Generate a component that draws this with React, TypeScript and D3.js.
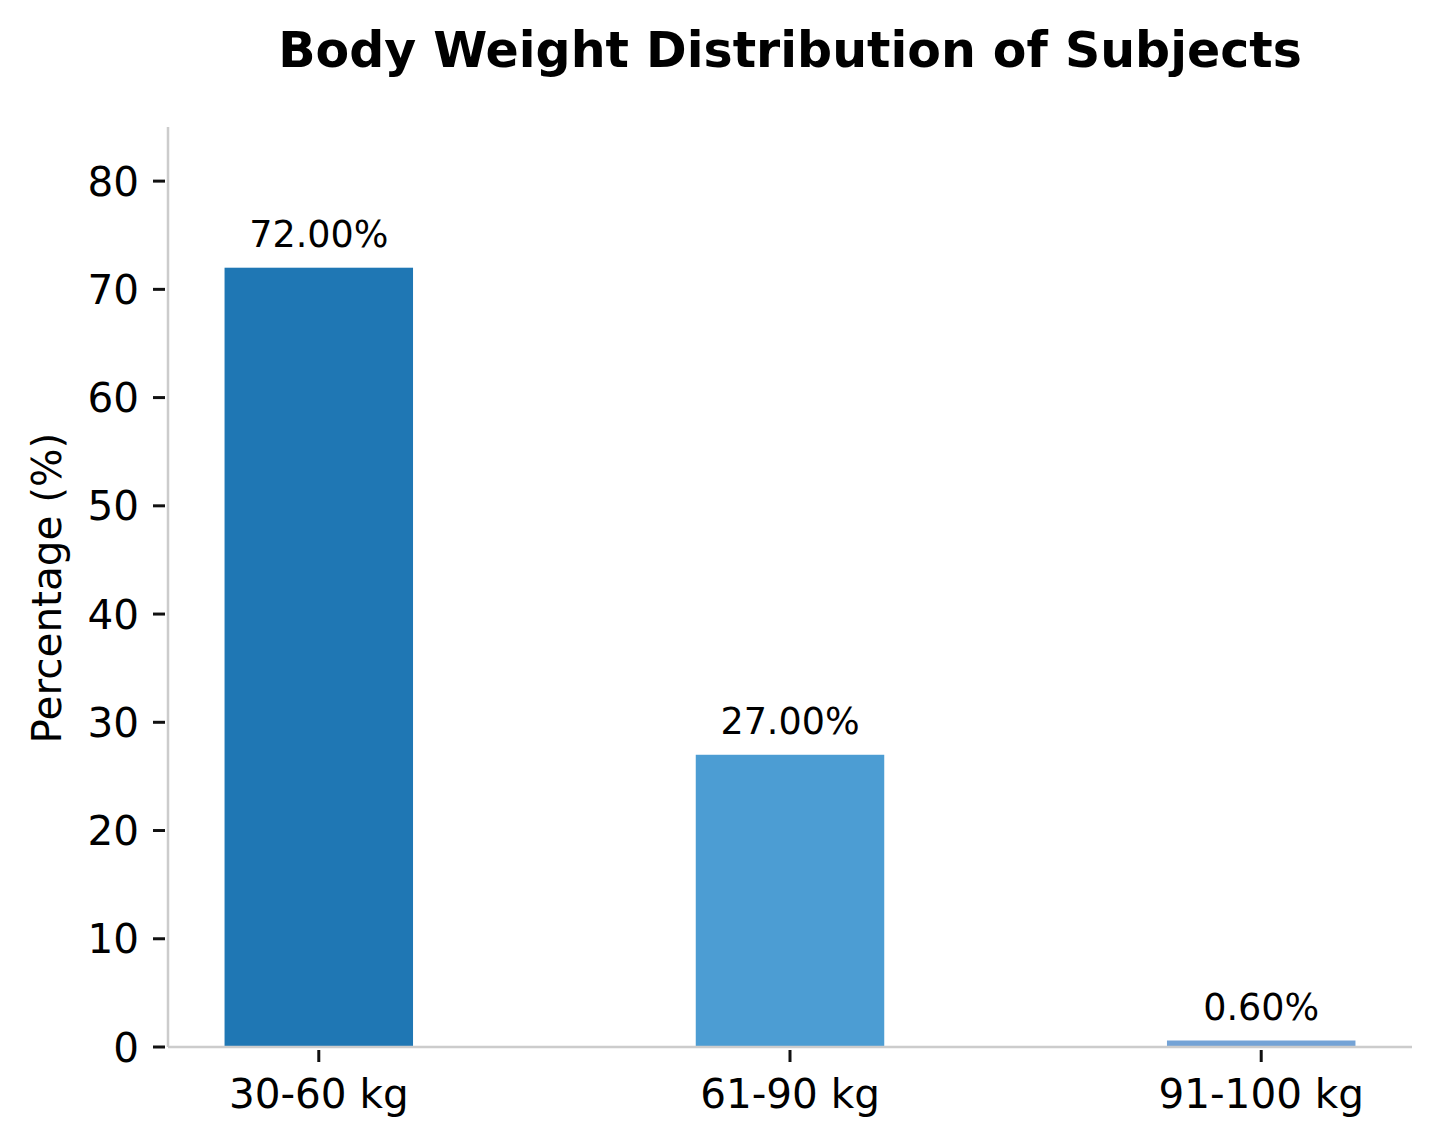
import { useEffect } from "react";
import * as d3 from "d3";

// chart data
const categories = ["30-60 kg", "61-90 kg", "91-100 kg"];
const percentages = [72.0, 27.0, 0.6];
const barColors = ["#1f77b4", "#4c9dd3", "#74a3d6"];
const yTicks = [0, 10, 20, 30, 40, 50, 60, 70, 80];

const W = 1440;
const H = 1146;
const margin = { top: 127, right: 28, bottom: 99, left: 168 };
const FONT = "'DejaVu Sans', sans-serif";

export default function App() {
    useEffect(() => {
        document.body.style.margin = "0";
    }, []);

    const plotBottom = H - margin.bottom;
    const plotRight = W - margin.right;

    // categorical positions as in matplotlib: index with 0.4 wide bars and 5% margins
    const x = d3.scaleLinear().domain([-0.32, 2.32]).range([margin.left, plotRight]);
    const y = d3.scaleLinear().domain([0, 85]).range([plotBottom, margin.top]);
    const barW = x(0.4) - x(0);

    return (
        <svg width={W} height={H} style={{ display: "block", background: "#fff" }} fontFamily={FONT}>
            {/* title */}
            <text x={(margin.left + plotRight) / 2} y={67} textAnchor="middle" fontSize={49} fontWeight="bold" fill="#000">
                Body Weight Distribution of Subjects
            </text>

            {/* bars */}
            {percentages.map((v, i) => (
                <rect key={categories[i]} x={x(i) - barW / 2} y={y(v)} width={barW} height={plotBottom - y(v)} fill={barColors[i]} />
            ))}

            {/* value labels */}
            {percentages.map((v, i) => (
                <text key={"lbl" + i} x={x(i)} y={y(v) - 21} textAnchor="middle" fontSize={36.5} fill="#000">
                    {v.toFixed(2) + "%"}
                </text>
            ))}

            {/* spines */}
            <line x1={margin.left} x2={margin.left} y1={margin.top} y2={plotBottom} stroke="#cccccc" strokeWidth={2.5} />
            <line x1={margin.left} x2={plotRight} y1={plotBottom} y2={plotBottom} stroke="#cccccc" strokeWidth={2.5} />

            {/* y ticks */}
            {yTicks.map((t) => (
                <g key={"y" + t} transform={`translate(0,${y(t)})`}>
                    <line x1={margin.left - 15} x2={margin.left - 3} stroke="#111" strokeWidth={3} />
                    <text x={margin.left - 29} dy="0.36em" textAnchor="end" fontSize={40.5} fill="#000">
                        {t}
                    </text>
                </g>
            ))}

            {/* x ticks */}
            {categories.map((c, i) => (
                <g key={"x" + c} transform={`translate(${x(i)},0)`}>
                    <line y1={plotBottom + 3} y2={plotBottom + 15} stroke="#111" strokeWidth={3} />
                    <text y={plotBottom + 61} textAnchor="middle" fontSize={40.5} fill="#000">
                        {c}
                    </text>
                </g>
            ))}

            {/* y axis label */}
            <text transform={`translate(61,${(margin.top + plotBottom) / 2 + 1}) rotate(-90)`} textAnchor="middle" fontSize={40.5} fill="#000">
                Percentage (%)
            </text>
        </svg>
    );
}
